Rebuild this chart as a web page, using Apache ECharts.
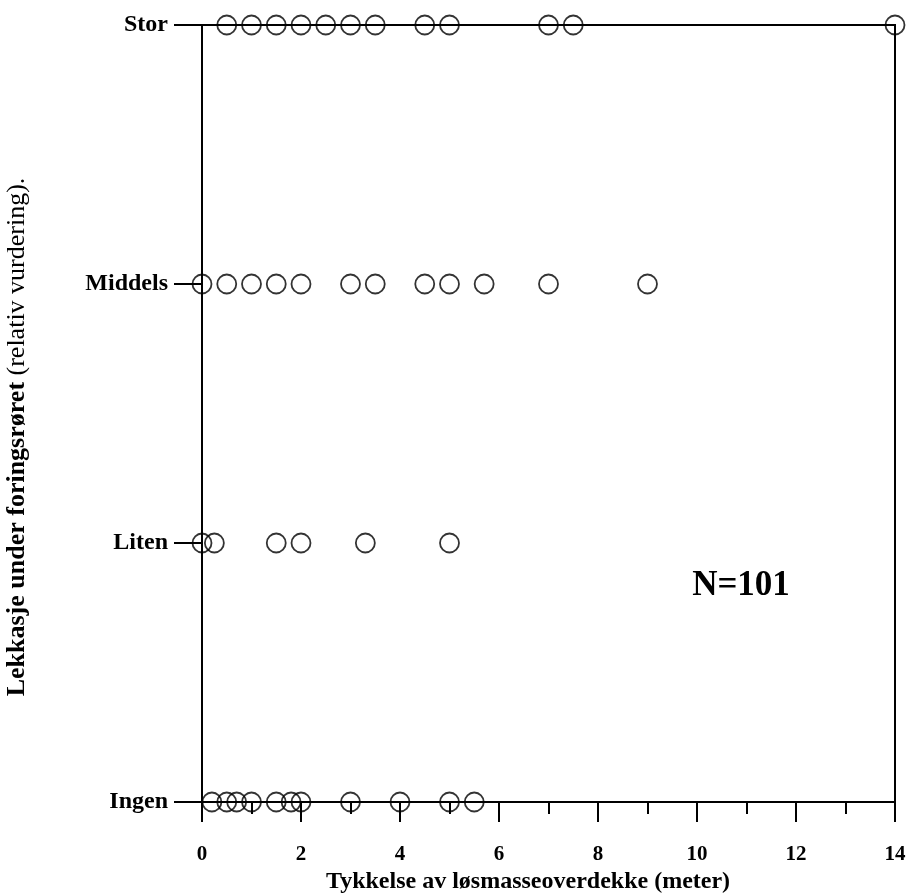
<!DOCTYPE html>
<html>
<head>
<meta charset="utf-8">
<script src="https://cdn.jsdelivr.net/npm/echarts@6/dist/echarts.min.js"></script>
<style>html,body{margin:0;padding:0;background:#fff}#c{width:909px;height:896px}</style>
</head>
<body>
<div id="c"></div>
<script>
var categories = ['Ingen', 'Liten', 'Middels', 'Stor'];
var storValues = [0.5, 1.0, 1.5, 2.0, 2.5, 3.0, 3.5, 4.5, 5.0, 7.0, 7.5, 14];
var middelsValues = [0, 0.5, 1.0, 1.5, 2.0, 3.0, 3.5, 4.5, 5.0, 5.7, 7.0, 9.0];
var litenValues = [0, 0.25, 1.5, 2.0, 3.3, 5.0];
var ingenValues = [0.2, 0.5, 0.7, 1.0, 1.5, 1.8, 2.0, 3.0, 4.0, 5.0, 5.5];
var xTitle = 'Tykkelse av løsmasseoverdekke (meter)';
var yTitleBold = 'Lekkasje under foringsrøret';
var yTitleNormal = ' (relativ vurdering).';
var annotation = 'N=101';

var groups = {Ingen: ingenValues, Liten: litenValues, Middels: middelsValues, Stor: storValues};
var pts = [];
categories.forEach(function (c) {
  groups[c].forEach(function (v) { pts.push([v, c]); });
});

var font = 'Liberation Serif';
var chart = echarts.init(document.getElementById('c'));
chart.setOption({
  animation: false,
  backgroundColor: '#fff',
  grid: {left: 202, right: 14, top: 25, bottom: 94, show: true, borderColor: '#000', borderWidth: 2, backgroundColor: 'transparent'},
  xAxis: {
    type: 'value', min: 0, max: 14, interval: 2,
    axisLine: {show: true, lineStyle: {color: '#000', width: 2}},
    axisTick: {show: true, length: 20, lineStyle: {color: '#000', width: 2}},
    minorTick: {show: true, splitNumber: 2, length: 12, lineStyle: {color: '#000', width: 2}},
    splitLine: {show: false},
    axisLabel: {margin: 42, color: '#000', fontFamily: font, fontWeight: 'bold', fontSize: 21}
  },
  yAxis: {
    type: 'category', data: categories, boundaryGap: false,
    axisLine: {show: true, lineStyle: {color: '#000', width: 2}},
    axisTick: {show: true, length: 28, interval: 0, lineStyle: {color: '#000', width: 2}},
    splitLine: {show: false},
    axisLabel: {margin: 34, interval: 0, color: '#000', fontFamily: font, fontWeight: 'bold', fontSize: 24}
  },
  series: [{
    type: 'scatter', data: pts, symbol: 'circle', symbolSize: 19, clip: false, z: 5,
    itemStyle: {color: 'rgba(0,0,0,0)', borderColor: '#000', borderWidth: 1.8}
  }],
  graphic: [
    {type: 'text', x: 528, y: 882, style: {text: xTitle, fill: '#000', font: 'bold 24px "Liberation Serif"', textAlign: 'center', textVerticalAlign: 'middle'}},
    {type: 'text', x: 17, y: 437, rotation: Math.PI / 2, style: {
      text: '{b|' + yTitleBold + '}{n|' + yTitleNormal + '}',
      textAlign: 'center', textVerticalAlign: 'middle',
      rich: {
        b: {fontFamily: font, fontWeight: 'bold', fontSize: 26, fill: '#000'},
        n: {fontFamily: font, fontWeight: 'normal', fontSize: 26, fill: '#000'}
      }
    }},
    {type: 'text', x: 741, y: 586, style: {text: annotation, fill: '#000', font: 'bold 35px "Liberation Serif"', textAlign: 'center', textVerticalAlign: 'middle'}}
  ]
});
</script>
</body>
</html>
